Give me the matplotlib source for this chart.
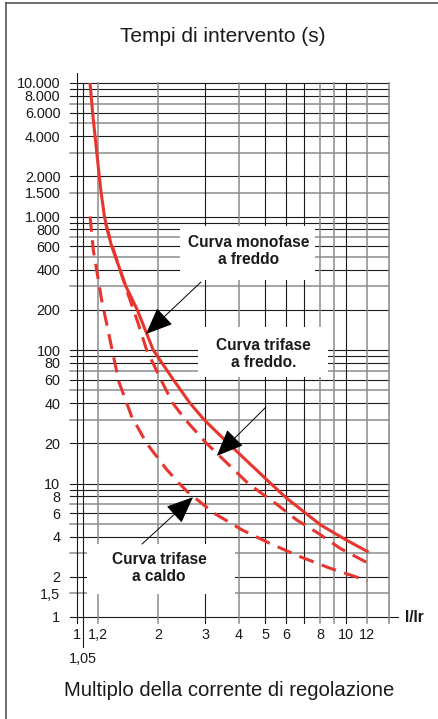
import numpy as np
import matplotlib

matplotlib.use("Agg")
import matplotlib.pyplot as plt
from matplotlib import font_manager
from matplotlib.patches import Rectangle
from matplotlib.lines import Line2D
from matplotlib.ticker import NullLocator

# ---------- dati ----------
mono_x = [1.118, 1.143, 1.167, 1.21, 1.23, 1.265, 1.295, 1.345, 1.445, 1.52, 1.675,
          1.92, 2.28, 2.63, 2.97, 3.65, 5.25, 6.02, 8.05, 10.0, 12.0]
mono_y = [10000, 6000, 4000, 2000, 1500, 1000, 800, 600, 400, 300, 200,
          100, 60, 40, 30, 20, 10, 7.75, 4.89, 3.78, 3.1]

tri_freddo_x = [1.28, 1.33, 1.47, 1.56, 1.685, 1.815, 2.05, 2.27, 2.53, 3.03,
                4.33, 5.52, 6.56, 7.89, 9.5, 12.0]
tri_freddo_y = [880, 667, 358, 250, 160, 100, 60, 40, 30, 20,
                10, 7, 5.33, 4.24, 3.27, 2.55]

tri_caldo_x = [1.118, 1.15, 1.235, 1.327, 1.43, 1.597, 1.815, 2.15, 2.40, 2.57,
               3.23, 4.1, 5.21, 6.75, 8.72, 12.0]
tri_caldo_y = [1000, 560, 237, 119, 58, 31.7, 20, 12.8, 10, 8.7,
               6.0, 4.5, 3.56, 2.83, 2.32, 1.87]

x_grid = [1, 1.05, 1.2, 2, 3, 4, 5, 6, 7, 8, 9, 10, 12]
x_gray = [1.2, 2, 4, 8, 9, 12]
x_tick_vals = [1, 1.2, 2, 3, 4, 5, 6, 8, 10, 12]
x_tick_labels = ["1", "1,2", "2", "3", "4", "5", "6", "8", "10", "12"]

y_grid = [1, 1.5, 2, 3, 4, 5, 6, 7, 8, 9,
          10, 20, 30, 40, 50, 60, 70, 80, 90,
          100, 200, 300, 400, 500, 600, 700, 800, 900,
          1000, 1500, 2000, 3000, 4000, 5000, 6000, 7000, 8000, 9000, 10000]
y_gray = [1.5, 3, 5, 7, 30, 50, 70, 300, 500, 700, 1500, 3000, 5000, 7000]
y_tick_vals = [1, 1.5, 2, 4, 6, 8, 10, 20, 40, 60, 80, 100, 200, 400, 600, 800,
               1000, 1500, 2000, 4000, 6000, 8000, 10000]
y_tick_labels = ["1", "1,5", "2", "4", "6", "8", "10", "20", "40", "60", "80",
                 "100", "200", "400", "600", "800", "1.000", "1.500", "2.000",
                 "4.000", "6.000", "8.000", "10.000"]

X_MAX = 14.45

# ---------- font ----------
available = {f.name for f in font_manager.fontManager.ttflist}
if "Liberation Sans Narrow" in available:
    FAM = "Liberation Sans Narrow"
    k = 1.0
else:
    FAM = "Liberation Sans"
    k = 0.86
plt.rcParams["font.family"] = [FAM, "DejaVu Sans"]

RED = "#e8352e"
BLACK = "#1a1a1a"
GRAY = "#8c8c8c"


def main():
    fig = plt.figure(figsize=(4.38, 7.19), dpi=100)
    ax = fig.add_axes([77 / 438, 1 - 617 / 719, 312 / 438, 534 / 719])
    ax.set_xscale("log")
    ax.set_yscale("log")
    ax.set_xlim(1, X_MAX)
    ax.set_ylim(1, 10000)
    for s in ax.spines.values():
        s.set_visible(False)

    # griglia disegnata a mano (sporge un po' come tacche)
    for yv in y_grid:
        gray = yv in y_gray
        xmax = 1.029 if yv == 1 else 1.0
        ax.axhline(yv, xmin=-0.023, xmax=xmax, clip_on=False,
                   color=GRAY if gray else BLACK, lw=1.1 if gray else 0.8, zorder=1)
    for xv in x_grid:
        gray = xv in x_gray
        ymin = -0.056 if xv == 1.05 else -0.012
        ymax = 1.019 if xv == 1 else 1.0
        ax.axvline(xv, ymin=ymin, ymax=ymax, clip_on=False,
                   color=GRAY if gray else BLACK, lw=1.1 if gray else 0.8, zorder=1)
    ax.axvline(X_MAX, ymin=-0.012, ymax=1.0, clip_on=False, color=GRAY, lw=1.2, zorder=1)

    # riquadri bianchi per le etichette
    for (x0, y0, w, h) in [(0.330, 0.631, 0.433, 0.101),
                           (0.388, 0.449, 0.416, 0.094),
                           (0.032, 0.043, 0.474, 0.094)]:
        ax.add_patch(Rectangle((x0, y0), w, h, transform=ax.transAxes,
                               facecolor="white", edgecolor="none", zorder=3))

    # curve
    ax.plot(mono_x, mono_y, color=RED, lw=2.2, zorder=4, solid_joinstyle="round")
    ax.plot(tri_freddo_x, tri_freddo_y, color=RED, lw=2.2, ls=(0, (5, 2.8)), zorder=4)
    ax.plot(tri_caldo_x, tri_caldo_y, color=RED, lw=2.2, ls=(0, (5, 2.8)), zorder=4)

    # etichette e frecce
    bold = dict(fontsize=13 * k, fontweight="bold", ha="center", va="center",
                color=BLACK, transform=ax.transAxes, zorder=6, linespacing=1.15)
    ax.text(0.550, 0.685, "Curva monofase\na freddo", **bold)
    ax.text(0.598, 0.493, "Curva trifase\na freddo.", **bold)
    ax.text(0.263, 0.092, "Curva trifase\na caldo", **bold)

    arrow = dict(arrowstyle="-|>,head_length=0.9,head_width=0.38", color="black",
                 lw=0.7, mutation_scale=19, shrinkA=0, shrinkB=0)
    ax.annotate("", xy=(1.805, 131.8), xytext=(2.89, 323), arrowprops=arrow, zorder=7)
    ax.annotate("", xy=(3.31, 16.1), xytext=(5.04, 37.4), arrowprops=arrow, zorder=7)
    ax.annotate("", xy=(2.70, 7.9), xytext=(1.745, 3.52), arrowprops=arrow, zorder=7)

    # tacche / etichette assi
    ax.xaxis.set_minor_locator(NullLocator())
    ax.yaxis.set_minor_locator(NullLocator())
    ax.set_xticks(x_tick_vals, x_tick_labels)
    ax.set_yticks(y_tick_vals, y_tick_labels)
    ax.tick_params(axis="both", length=0, labelsize=12 * k, labelcolor=BLACK)
    ax.tick_params(axis="x", pad=8)
    ax.tick_params(axis="y", pad=12)
    ax.annotate("1,05", xy=(1.05, -0.079), xycoords=("data", "axes fraction"),
                ha="center", va="center", fontsize=12 * k, color=BLACK,
                annotation_clip=False)
    ax.text(1.081, 0.0, "I/Ir", transform=ax.transAxes, ha="center", va="center",
            fontsize=13 * k, fontweight="bold", color=BLACK)

    fig.text(0.509, 1 - 36 / 719, "Tempi di intervento (s)", ha="center", va="center",
             fontsize=17.5 * k, color=BLACK)
    fig.text(0.523, 1 - 690 / 719, "Multiplo della corrente di regolazione",
             ha="center", va="center", fontsize=17 * k, color=BLACK)

    # cornice (solo bordo sinistro e superiore visibili)
    fig.add_artist(Line2D([6 / 438, 6 / 438], [0, 1 - 3 / 719], color="#555555", lw=1.2))
    fig.add_artist(Line2D([6 / 438, 1], [1 - 3 / 719, 1 - 3 / 719], color="#555555", lw=1.2))

    fig.savefig("out.png", dpi=100, facecolor="white")
    plt.close(fig)


if __name__ == "__main__":
    main()
